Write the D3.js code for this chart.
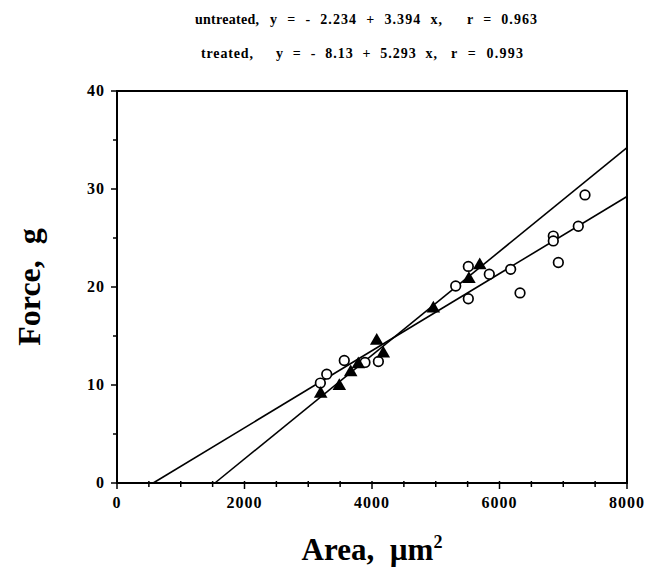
<!DOCTYPE html>
<html>
<head>
<meta charset="utf-8">
<script src="https://cdn.jsdelivr.net/npm/d3@7"></script>
<style>
  body { margin: 0; background: #fff; }
  text { font-family: "Liberation Serif", "Times New Roman", serif; font-weight: bold; fill: #000; }
</style>
</head>
<body>
<div id="chart"></div>
<script>
// untreated points (open circles)
const untreatedArea = [3190, 3290, 3565, 3890, 4100, 5313, 5511, 5511, 5840, 6175, 6322, 6844, 6844, 6923, 7236, 7341];
const untreatedForce = [10.2, 11.1, 12.5, 12.3, 12.4, 20.1, 22.1, 18.8, 21.3, 21.8, 19.4, 25.2, 24.7, 22.5, 26.2, 29.4];

// treated points (filled triangles)
const treatedArea = [3195, 3487, 3666, 3785, 4074, 4177, 4962, 5520, 5690];
const treatedForce = [9.1, 9.9, 11.3, 12.1, 14.5, 13.2, 17.8, 20.8, 22.2];

// fitted lines, [intercept, slope per 1000 um^2] as drawn in the figure
const untreatedFit = [-2.234, 3.934];
const treatedFit = [-8.13, 5.293];

const xMajor = [0, 2000, 4000, 6000, 8000];
const xMinor = d3.range(0, 8001, 500);
const yMajor = [0, 10, 20, 30, 40];
const yMinor = d3.range(0, 41, 5);

const titleLines = [
  ["untreated,", "y  =  -  2.234  +  3.394  x,", "r  =  0.963"],
  ["treated,", "y  =  -  8.13  +  5.293  x,", "r  =  0.993"]
];

const width = 648, height = 571;
const margin = { top: 91, right: 21, bottom: 88, left: 117 };

const svg = d3.select("#chart").append("svg")
  .attr("width", width)
  .attr("height", height);

const x = d3.scaleLinear().domain([0, 8000]).range([margin.left, width - margin.right]);
const y = d3.scaleLinear().domain([0, 40]).range([height - margin.bottom, margin.top]);

// frame
svg.append("rect")
  .attr("x", x(0)).attr("y", y(40))
  .attr("width", x(8000) - x(0)).attr("height", y(0) - y(40))
  .attr("fill", "none").attr("stroke", "#000").attr("stroke-width", 2);

// x ticks
svg.append("g").selectAll("line").data(xMinor).join("line")
  .attr("x1", d => x(d)).attr("x2", d => x(d))
  .attr("y1", y(0) - 2)
  .attr("y2", d => y(0) + (xMajor.includes(d) ? 6 : 4))
  .attr("stroke", "#000").attr("stroke-width", 1.5);

svg.append("g").selectAll("text").data(xMajor).join("text")
  .attr("x", d => x(d)).attr("y", y(0) + 25)
  .attr("text-anchor", "middle")
  .style("font-size", "16px").style("letter-spacing", "1px")
  .text(d => d);

// y ticks
svg.append("g").selectAll("line").data(yMinor).join("line")
  .attr("y1", d => y(d)).attr("y2", d => y(d))
  .attr("x1", d => x(0) - (yMajor.includes(d) ? 6 : 4))
  .attr("x2", x(0) + 1)
  .attr("stroke", "#000").attr("stroke-width", 1.5);

svg.append("g").selectAll("text").data(yMajor).join("text")
  .attr("x", x(0) - 12).attr("y", d => y(d) + 5)
  .attr("text-anchor", "end")
  .style("font-size", "16px").style("letter-spacing", "1px")
  .text(d => d);

// regression lines
const fitLine = (fit) => {
  const x0 = -fit[0] / fit[1] * 1000;
  return [[x0, 0], [8000, fit[0] + fit[1] * 8]];
};
const line = d3.line().x(d => x(d[0])).y(d => y(d[1]));
[untreatedFit, treatedFit].forEach(fit => {
  svg.append("path")
    .attr("d", line(fitLine(fit)))
    .attr("fill", "none").attr("stroke", "#000").attr("stroke-width", 1.6);
});

// untreated circles
svg.append("g").selectAll("circle").data(d3.zip(untreatedArea, untreatedForce)).join("circle")
  .attr("cx", d => x(d[0])).attr("cy", d => y(d[1]))
  .attr("r", 4.8)
  .attr("fill", "#fff").attr("stroke", "#000").attr("stroke-width", 1.7);

// treated triangles
const tri = d3.symbol().type(d3.symbolTriangle).size(80);
svg.append("g").selectAll("path").data(d3.zip(treatedArea, treatedForce)).join("path")
  .attr("transform", d => `translate(${x(d[0])},${y(d[1])})`)
  .attr("d", tri)
  .attr("fill", "#000");

// titles
const titleX = [[195, 270, 467], [201, 276, 451]];
const titleLen = [[64, 172, 70], [52, 161, 72]];
const titleY = [24, 58];
titleLines.forEach((parts, i) => {
  parts.forEach((t, j) => {
    svg.append("text")
      .attr("x", titleX[i][j]).attr("y", titleY[i])
      .attr("textLength", titleLen[i][j])
      .attr("lengthAdjust", "spacing")
      .style("font-size", "14px")
      .style("white-space", "pre")
      .text(t);
  });
});

// axis titles
const xt = svg.append("text")
  .attr("x", (x(0) + x(8000)) / 2).attr("y", 560)
  .attr("text-anchor", "middle")
  .style("font-size", "31px")
  .style("white-space", "pre");
xt.append("tspan").text("Area,  µm");
xt.append("tspan").attr("dy", -12).style("font-size", "18px").text("2");

svg.append("text")
  .attr("transform", `translate(40,${(y(0) + y(40)) / 2}) rotate(-90)`)
  .attr("text-anchor", "middle")
  .style("font-size", "32px")
  .style("white-space", "pre")
  .text("Force,  g");
</script>
</body>
</html>
